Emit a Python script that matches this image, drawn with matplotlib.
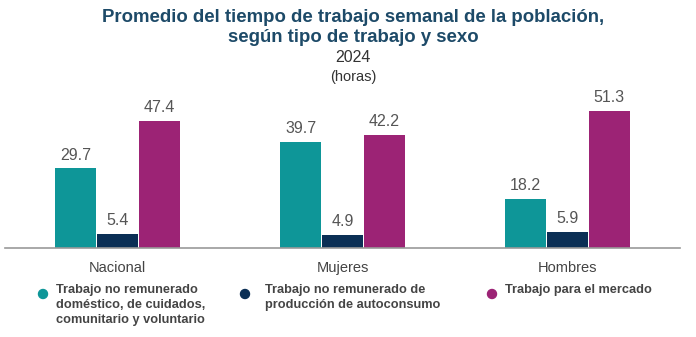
import numpy as np
import matplotlib
matplotlib.use("Agg")
import matplotlib.pyplot as plt

plt.rcParams['font.family'] = ['Liberation Sans', 'DejaVu Sans']

categories = ['Nacional', 'Mujeres', 'Hombres']
domestico = [29.7, 39.7, 18.2]
autoconsumo = [5.4, 4.9, 5.9]
mercado = [47.4, 42.2, 51.3]
series_names = ['Trabajo no remunerado\ndoméstico, de cuidados,\ncomunitario y voluntario',
                'Trabajo no remunerado de\nproducción de autoconsumo',
                'Trabajo para el mercado']
colors = ['#0E9698', '#0B2F55', '#9C2375']

fig = plt.figure(figsize=(6.96, 3.37), dpi=100)
ax = fig.add_axes([5 / 696, 89 / 337, 675 / 696, 158 / 337])

x = np.arange(len(categories))
w = 0.186
for i, vals in enumerate([domestico, autoconsumo, mercado]):
    bars = ax.bar(x + (i - 1) * w, vals, width=w * 0.99, color=colors[i])
    for b, v in zip(bars, vals):
        ax.text(b.get_x() + b.get_width() / 2, v + 2.2, f'{v:.1f}',
                ha='center', va='bottom', fontsize=11.5, color='#555555')

ax.set_xlim(-0.5, 2.5)
ax.set_ylim(0, 59)
ax.set_yticks([])
ax.set_xticks([])
for s in ['top', 'right', 'left']:
    ax.spines[s].set_visible(False)
ax.spines['bottom'].set_color('#999999')
ax.spines['bottom'].set_linewidth(1.2)
for xi, c in zip(x, categories):
    ax.text(xi, -5, c, ha='center', va='top', fontsize=10.5, color='#444444')

fig.text(353 / 696, 1 - 17 / 337, 'Promedio del tiempo de trabajo semanal de la población,',
         ha='center', va='center', fontsize=13.4, fontweight='bold', color='#1D4A68')
fig.text(353 / 696, 1 - 38 / 337, 'según tipo de trabajo y sexo',
         ha='center', va='center', fontsize=13.4, fontweight='bold', color='#1D4A68')
fig.text(353 / 696, 1 - 57 / 337, '2024', ha='center', va='center', fontsize=11.5, color='#333333')
fig.text(353 / 696, 1 - 77 / 337, '(horas)', ha='center', va='center', fontsize=10.5, color='#333333')

# leyenda manual
dot_x = [43, 245, 492]
txt_x = [56, 265, 505]
for dx, tx, name, col in zip(dot_x, txt_x, series_names, colors):
    fig.patches.append(matplotlib.patches.Ellipse((dx / 696, 1 - 294 / 337), 9 / 696, 9 / 337,
                                                  transform=fig.transFigure, color=col))
    fig.text(tx / 696, 1 - 284 / 337, name, ha='left', va='top', fontsize=9.2,
             fontweight='bold', color='#444444', linespacing=1.33)

fig.savefig('out.png', dpi=100)
